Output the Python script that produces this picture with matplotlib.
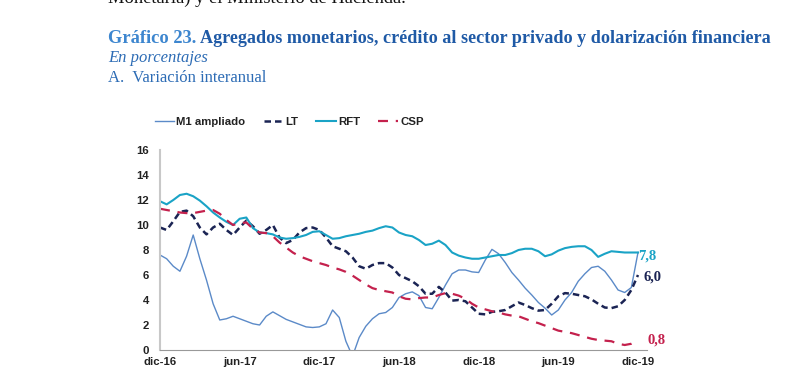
import numpy as np
import matplotlib
matplotlib.use("Agg")
import matplotlib.pyplot as plt

# months since dic-16, read every half month
meses = np.arange(0, 36.5, 0.5)

m1_ampliado = [7.6, 7.3, 6.7, 6.3, 7.5, 9.2, 7.3, 5.6, 3.7, 2.4,
               2.5, 2.7, 2.5, 2.3, 2.1, 2.0, 2.7, 3.05, 2.75, 2.45,
               2.25, 2.05, 1.85, 1.8, 1.85, 2.1, 3.2, 2.6, 0.7, -0.5,
               1.0, 1.9, 2.5, 2.9, 3.0, 3.4, 4.2, 4.5, 4.65, 4.35,
               3.4, 3.3, 4.2, 5.2, 6.1, 6.4, 6.4, 6.25, 6.2, 7.2,
               8.05, 7.7, 7.0, 6.2, 5.6, 4.95, 4.4, 3.8, 3.35, 2.8,
               3.2, 4.0, 4.6, 5.5, 6.1, 6.6, 6.7, 6.3, 5.6, 4.8,
               4.6, 5.0, 7.8]
lt = [9.8, 9.6, 10.3, 11.05, 11.15, 10.7, 9.8, 9.25, 9.8, 10.1,
      9.6, 9.2, 9.8, 10.35, 9.9, 9.3, 9.6, 10.0, 9.0, 8.55,
      8.8, 9.4, 9.75, 9.8, 9.6, 9.0, 8.3, 8.1, 7.9, 7.4,
      6.7, 6.5, 6.8, 6.95, 6.95, 6.6, 6.0, 5.75, 5.5, 5.1,
      4.5, 4.5, 5.05, 4.6, 3.95, 4.0, 3.9, 3.4, 2.9, 2.85,
      3.05, 3.1, 3.2, 3.5, 3.8, 3.6, 3.35, 3.15, 3.2, 3.7,
      4.3, 4.55, 4.5, 4.4, 4.3, 4.05, 3.7, 3.4, 3.35, 3.5,
      4.0, 4.8, 6.0]
rft = [11.9, 11.65, 12.0, 12.4, 12.5, 12.3, 11.95, 11.5, 11.0, 10.6,
       10.25, 10.0, 10.5, 10.6, 9.75, 9.4, 9.35, 9.25, 9.0, 8.9,
       8.95, 9.05, 9.2, 9.45, 9.5, 9.2, 8.9, 8.95, 9.1, 9.2,
       9.3, 9.45, 9.55, 9.75, 9.9, 9.8, 9.4, 9.2, 9.1, 8.8,
       8.4, 8.5, 8.75, 8.4, 7.8, 7.55, 7.4, 7.3, 7.3, 7.4,
       7.5, 7.6, 7.6, 7.75, 8.0, 8.1, 8.1, 7.9, 7.5, 7.65,
       7.95, 8.15, 8.25, 8.3, 8.3, 8.0, 7.45, 7.7, 7.9, 7.85,
       7.8, 7.8, 7.8]
csp = [11.3, 11.2, 11.1, 11.0, 10.95, 10.95, 11.05, 11.15, 11.2, 10.9,
       10.4, 10.0, 10.15, 10.2, 9.7, 9.4, 9.35, 9.1, 8.6, 8.2,
       7.8, 7.5, 7.3, 7.1, 6.95, 6.8, 6.6, 6.45, 6.25, 5.95,
       5.6, 5.25, 4.95, 4.8, 4.7, 4.6, 4.3, 4.1, 4.05, 4.15,
       4.2, 4.2, 4.4, 4.55, 4.5, 4.35, 4.1, 3.7, 3.4, 3.25,
       3.1, 3.0, 2.85, 2.75, 2.7, 2.5, 2.3, 2.15, 1.95, 1.75,
       1.55, 1.45, 1.35, 1.2, 1.05, 0.9, 0.8, 0.75, 0.7, 0.5,
       0.4, 0.5, 0.8]

etiquetas_x = ["dic-16", "jun-17", "dic-17", "jun-18", "dic-18", "jun-19", "dic-19"]

c_m1 = "#5b8ac8"
c_lt = "#1b2454"
c_rft = "#1aa3c6"
c_csp = "#c4214d"
azul = "#2d6cb5"

fig = plt.figure(figsize=(8.11, 3.85), dpi=100)
ax = fig.add_axes([0.1973, 0.0909, 0.6005, 0.5195])

ax.plot(meses, m1_ampliado, color=c_m1, lw=1.0, label="M1 ampliado")
ax.plot(meses, lt, color=c_lt, lw=1.8, dashes=(2.6, 1.6), label="LT")
ax.plot(meses, rft, color=c_rft, lw=1.5, label="RFT")
ax.plot(meses, csp, color=c_csp, lw=1.6, dashes=(4.5, 3.5), label="CSP")

ax.set_xlim(0, 36.68)
ax.set_ylim(0, 16)
ax.set_yticks(range(0, 17, 2))
ax.set_xticks(range(0, 37, 6))
ax.set_xticklabels(etiquetas_x)
ax.tick_params(length=0, labelsize=8.2, colors="#222222", pad=5)
for t in ax.get_xticklabels() + ax.get_yticklabels():
    t.set_fontweight("bold")
    t.set_family("Liberation Sans")
ax.tick_params(axis="y", pad=8)
for s in ["top", "right"]:
    ax.spines[s].set_visible(False)
ax.spines["left"].set_color("#c8c8c8")
ax.spines["bottom"].set_color("#999999")
ax.spines["left"].set_linewidth(1.5)

# end-of-series labels
ax.text(36.0, 7.5, "7,8", color=c_rft, fontsize=10.5, fontweight="bold",
        family="Liberation Serif", va="center", ha="left")
ax.text(36.4, 5.85, "6,0", color=c_lt, fontsize=10.5, fontweight="bold",
        family="Liberation Serif", va="center", ha="left")
ax.text(36.7, 0.8, "0,8", color=c_csp, fontsize=10.5, fontweight="bold",
        family="Liberation Serif", va="center", ha="left")

leg = fig.legend(loc="center left", bbox_to_anchor=(0.178, 0.682), ncol=4,
                 frameon=False, handlelength=1.7, handletextpad=0.2,
                 columnspacing=1.6, prop={"family": "Liberation Sans",
                                          "weight": "bold", "size": 8.2})
for t in leg.get_texts():
    t.set_color("#222222")

# heading text above the chart
fig.text(0.133, 1.005, "Monetaria) y el Ministerio de Hacienda.", fontsize=13.3,
         family="Liberation Serif", color="#111111", va="center")
fig.text(0.133, 0.901, "Gráfico 23.", fontsize=13.3, fontweight="bold",
         family="Liberation Serif", color="#3d86cf", va="center")
fig.text(0.247, 0.901, "Agregados monetarios, crédito al sector privado y dolarización financiera",
         fontsize=13.1, fontweight="bold", family="Liberation Serif",
         color="#1f5aa6", va="center")
fig.text(0.133, 0.849, "En porcentajes", fontsize=12, style="italic",
         family="Liberation Serif", color=azul, va="center")
fig.text(0.133, 0.797, "A.  Variación interanual", fontsize=12,
         family="Liberation Serif", color=azul, va="center")

fig.savefig("out.png", dpi=100)
